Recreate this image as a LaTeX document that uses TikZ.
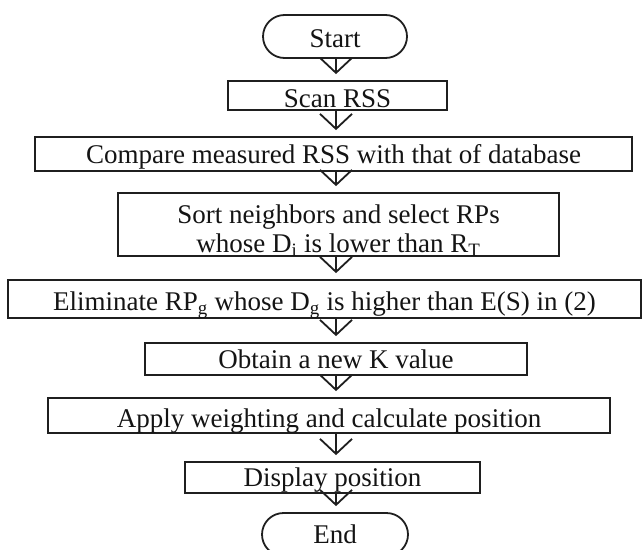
\documentclass[tikz,border=0pt]{standalone}
\usepackage{fontspec}
\setmainfont{Liberation Serif}
\usetikzlibrary{arrows.meta,shapes.misc}
\begin{document}
\begin{tikzpicture}[x=1pt,y=-1pt,
  box/.style={draw=black!88, line width=1.8pt, inner sep=0pt},
  term/.style={box, rounded rectangle},
  lbl/.style={anchor=base, inner sep=0pt, font=\fontsize{27}{30}\selectfont, text=black!92},
  flow/.style={draw=black!88, line width=1.8pt,
    -{Straight Barb[length=15pt,width=32pt]}, shorten >=6pt}
]
\clip (0,0) rectangle (644,549);
\fill[white] (0,0) rectangle (644,549);

% process boxes
\node[term, minimum width=144pt, minimum height=43pt] (start)   at (335,36.5)  {};
\node[box,  minimum width=219pt, minimum height=29pt] (scan)    at (337.5,95.5) {};
\node[box,  minimum width=597pt, minimum height=34pt] (compare) at (333.5,154) {};
\node[box,  minimum width=441pt, minimum height=63pt] (sort)    at (338.5,224.5) {};
\node[box,  minimum width=633pt, minimum height=38pt] (elim)    at (324.5,299) {};
\node[box,  minimum width=382pt, minimum height=32pt] (obtain)  at (336,359) {};
\node[box,  minimum width=562pt, minimum height=35pt] (apply)   at (329,415.5) {};
\node[box,  minimum width=295pt, minimum height=31pt] (display) at (332.5,477.5) {};
\node[term, minimum width=146pt, minimum height=43pt] (end)     at (335,534.5) {};

% labels, set on their baselines
\node[lbl] (startT)   at ([yshift=11pt]start.south)   {Start};
\node[lbl] (scanT)    at ([yshift=3pt]scan.south)     {Scan RSS};
\node[lbl] (compareT) at ([yshift=8pt]compare.south)  {Compare measured RSS with that of database};
\node[lbl] (sortA)    at ([yshift=33pt]sort.south)    {Sort neighbors and select RPs};
\node[lbl] (sortB)    at ([yshift=4pt]sort.south)     {whose D\textsubscript{i} is lower than R\textsubscript{T}};
\node[lbl] (elimT)    at ([yshift=8pt]elim.south)     {Eliminate RP\textsubscript{g} whose D\textsubscript{g} is higher than E(S) in (2)};
\node[lbl] (obtainT)  at ([yshift=7pt]obtain.south)   {Obtain a new K value};
\node[lbl] (applyT)   at ([yshift=6pt]apply.south)    {Apply weighting and calculate position};
\node[lbl] (displayT) at ([yshift=7pt]display.south)  {Display position};
\node[lbl] (endT)     at ([yshift=13pt]end.south)     {End};

% common vertical axis of the connectors
\coordinate (axis) at (336,0);

\draw[flow] (start.south -| axis)   -- (scan.north -| axis);
\draw[flow] (scan.south -| axis)    -- (compare.north -| axis);
\draw[flow] (compare.south -| axis) -- (sort.north -| axis);
\draw[flow] (sort.south -| axis)    -- (elim.north -| axis);
\draw[flow] (elim.south -| axis)    -- (obtain.north -| axis);
\draw[flow] (obtain.south -| axis)  -- (apply.north -| axis);
\draw[flow] (apply.south -| axis)   -- (display.north -| axis);
\draw[flow] (display.south -| axis) -- (end.north -| axis);
\end{tikzpicture}
\end{document}
